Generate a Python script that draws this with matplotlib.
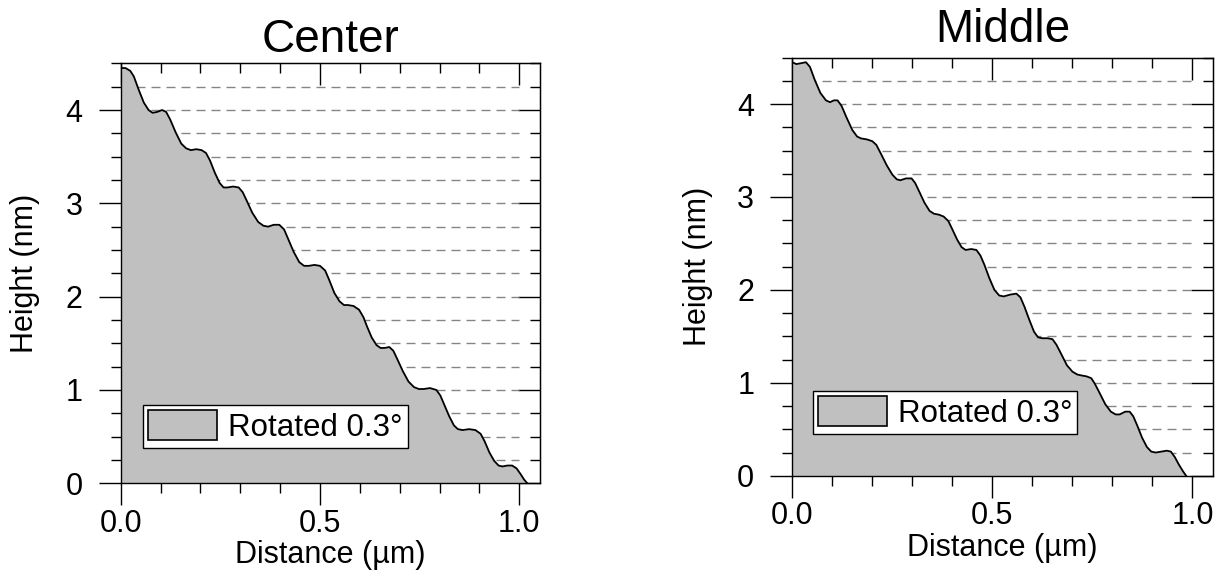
import numpy as np
import matplotlib.pyplot as plt
from matplotlib.patches import Patch
from matplotlib.ticker import MultipleLocator, NullFormatter

plt.rcParams['font.family'] = ['Liberation Sans', 'DejaVu Sans']

# height profile across the "Center" region (distance in um, height in nm)
center_x = [0.000, 0.012, 0.024, 0.033, 0.045, 0.058, 0.070, 0.080, 0.092, 0.104,
            0.114, 0.124, 0.138, 0.152, 0.164, 0.176, 0.190, 0.203, 0.214, 0.224,
            0.236, 0.248, 0.258, 0.268, 0.282, 0.296, 0.306, 0.316, 0.330, 0.345,
            0.358, 0.370, 0.384, 0.398, 0.410, 0.420, 0.434, 0.448, 0.460, 0.472,
            0.486, 0.500, 0.513, 0.523, 0.536, 0.549, 0.560, 0.570, 0.584, 0.598,
            0.609, 0.618, 0.630, 0.642, 0.652, 0.662, 0.674, 0.684, 0.694, 0.708,
            0.722, 0.736, 0.748, 0.760, 0.776, 0.792, 0.802, 0.812, 0.824, 0.836,
            0.846, 0.858, 0.874, 0.890, 0.903, 0.913, 0.925, 0.937, 0.948, 0.958,
            0.970, 0.982, 0.993, 1.003, 1.012, 1.020]
center_h = [4.45, 4.45, 4.42, 4.36, 4.22, 4.08, 4.00, 3.97, 3.98, 4.00,
            3.98, 3.90, 3.76, 3.64, 3.59, 3.57, 3.58, 3.57, 3.54, 3.46,
            3.33, 3.22, 3.17, 3.17, 3.18, 3.17, 3.12, 3.03, 2.90, 2.80,
            2.76, 2.75, 2.77, 2.77, 2.72, 2.62, 2.48, 2.37, 2.33, 2.33,
            2.34, 2.33, 2.28, 2.18, 2.04, 1.95, 1.91, 1.91, 1.90, 1.86,
            1.78, 1.68, 1.56, 1.48, 1.45, 1.45, 1.46, 1.42, 1.33, 1.20,
            1.09, 1.03, 1.01, 1.01, 1.02, 1.00, 0.94, 0.84, 0.72, 0.62,
            0.58, 0.57, 0.58, 0.57, 0.53, 0.45, 0.33, 0.24, 0.19, 0.18,
            0.19, 0.19, 0.16, 0.10, 0.04, 0.00]

# height profile across the "Middle" region
middle_x = [0.000, 0.010, 0.022, 0.034, 0.044, 0.056, 0.070, 0.084, 0.094, 0.104,
            0.113, 0.123, 0.136, 0.150, 0.162, 0.172, 0.186, 0.200, 0.210, 0.222,
            0.236, 0.250, 0.261, 0.270, 0.284, 0.298, 0.307, 0.318, 0.330, 0.343,
            0.354, 0.366, 0.378, 0.390, 0.400, 0.412, 0.423, 0.433, 0.447, 0.460,
            0.470, 0.480, 0.492, 0.505, 0.517, 0.528, 0.545, 0.560, 0.570, 0.580,
            0.592, 0.604, 0.614, 0.624, 0.638, 0.650, 0.660, 0.672, 0.686, 0.700,
            0.712, 0.722, 0.735, 0.747, 0.756, 0.768, 0.782, 0.796, 0.808, 0.818,
            0.832, 0.843, 0.852, 0.862, 0.874, 0.886, 0.897, 0.908, 0.922, 0.936,
            0.946, 0.956, 0.966, 0.976, 0.984]
middle_h = [4.45, 4.43, 4.44, 4.45, 4.40, 4.26, 4.12, 4.04, 4.02, 4.04,
            4.04, 3.98, 3.85, 3.72, 3.65, 3.63, 3.62, 3.60, 3.56, 3.46,
            3.34, 3.24, 3.19, 3.18, 3.20, 3.20, 3.15, 3.05, 2.94, 2.85,
            2.82, 2.81, 2.79, 2.74, 2.65, 2.54, 2.46, 2.43, 2.44, 2.43,
            2.37, 2.27, 2.13, 2.00, 1.94, 1.93, 1.95, 1.96, 1.92, 1.82,
            1.68, 1.55, 1.49, 1.48, 1.48, 1.47, 1.41, 1.31, 1.19, 1.12,
            1.09, 1.08, 1.07, 1.05, 0.99, 0.89, 0.77, 0.69, 0.66, 0.66,
            0.69, 0.69, 0.64, 0.54, 0.41, 0.31, 0.26, 0.25, 0.26, 0.27,
            0.26, 0.20, 0.12, 0.05, 0.00]

# dashed reference levels (nm)
guide_levels = [0.25, 0.50, 0.75, 1.00, 1.25, 1.50, 1.75, 2.00, 2.25,
                2.50, 2.75, 3.00, 3.25, 3.50, 3.75, 4.00, 4.25]

legend_label = 'Rotated 0.3°'
fill_color = '#c0c0c0'
FS = 22


def draw_panel(ax, x, h, title, title_pad, xmax, leg_anchor, ylab_x):
    ax.hlines(guide_levels, 0, 1.0, colors='#858585', linestyles=(0, (6.5, 4.3)),
              lw=1.0, zorder=1)
    ax.fill_between(x, 0, h, color=fill_color, lw=0, zorder=2)
    ax.plot(x, h, color='black', lw=1.3, zorder=3)

    ax.set_xlim(0, xmax)
    ax.set_ylim(0, 4.5)
    ax.set_title(title, fontsize=33, y=1.0, pad=title_pad)
    ax.set_xlabel('Distance (µm)', fontsize=FS, labelpad=1)
    ax.set_ylabel('Height (nm)', fontsize=FS)
    ax.yaxis.set_label_coords(ylab_x, 0.5)

    ax.set_xticks([0.0, 0.5, 1.0])
    ax.set_xticklabels(['0.0', '0.5', '1.0'])
    ax.set_yticks([0, 1, 2, 3, 4])
    ax.xaxis.set_minor_locator(MultipleLocator(0.1))
    ax.yaxis.set_minor_locator(MultipleLocator(0.25))
    ax.tick_params(axis='both', which='both', direction='out', top=False, right=False,
                   width=1.0, labelsize=FS)
    ax.tick_params(axis='both', which='major', length=15.5)
    ax.tick_params(axis='both', which='minor', length=7)
    ax.tick_params(axis='x', pad=3)
    ax.tick_params(axis='y', pad=12)
    for sp in ax.spines.values():
        sp.set_linewidth(1.0)

    # mirrored axes with inward ticks
    top = ax.secondary_xaxis('top')
    top.set_xticks([0.0, 0.5, 1.0])
    top.xaxis.set_minor_locator(MultipleLocator(0.1))
    top.xaxis.set_major_formatter(NullFormatter())
    top.tick_params(which='both', direction='in', width=1.0)
    top.tick_params(which='major', length=15.5)
    top.tick_params(which='minor', length=7)
    right = ax.secondary_yaxis('right')
    right.set_yticks([0, 1, 2, 3, 4])
    right.yaxis.set_minor_locator(MultipleLocator(0.25))
    right.yaxis.set_major_formatter(NullFormatter())
    right.tick_params(which='both', direction='in', width=1.0)
    right.tick_params(which='major', length=15.5)
    right.tick_params(which='minor', length=7)

    handle = Patch(facecolor=fill_color, edgecolor='black', linewidth=1.2)
    leg = ax.legend([handle], [legend_label], loc='lower left', bbox_to_anchor=leg_anchor,
                    borderaxespad=0, borderpad=0.16, handlelength=2.2, handleheight=1.1,
                    handletextpad=0.35, fontsize=22.5, fancybox=False, framealpha=1,
                    edgecolor='black')
    leg.get_frame().set_linewidth(1.0)
    leg.set_zorder(5)


fig = plt.figure(figsize=(12.19, 5.76), dpi=100)
ax1 = fig.add_axes([0.099, 0.161, 0.344, 0.729])
ax2 = fig.add_axes([0.650, 0.174, 0.345, 0.726])

draw_panel(ax1, center_x, center_h, 'Center', 8, 1.052, (0.054, 0.085), -0.1925)
draw_panel(ax2, middle_x, middle_h, 'Middle', 11.5, 1.051, (0.0495, 0.101), -0.189)

fig.savefig('out.png', dpi=100)
